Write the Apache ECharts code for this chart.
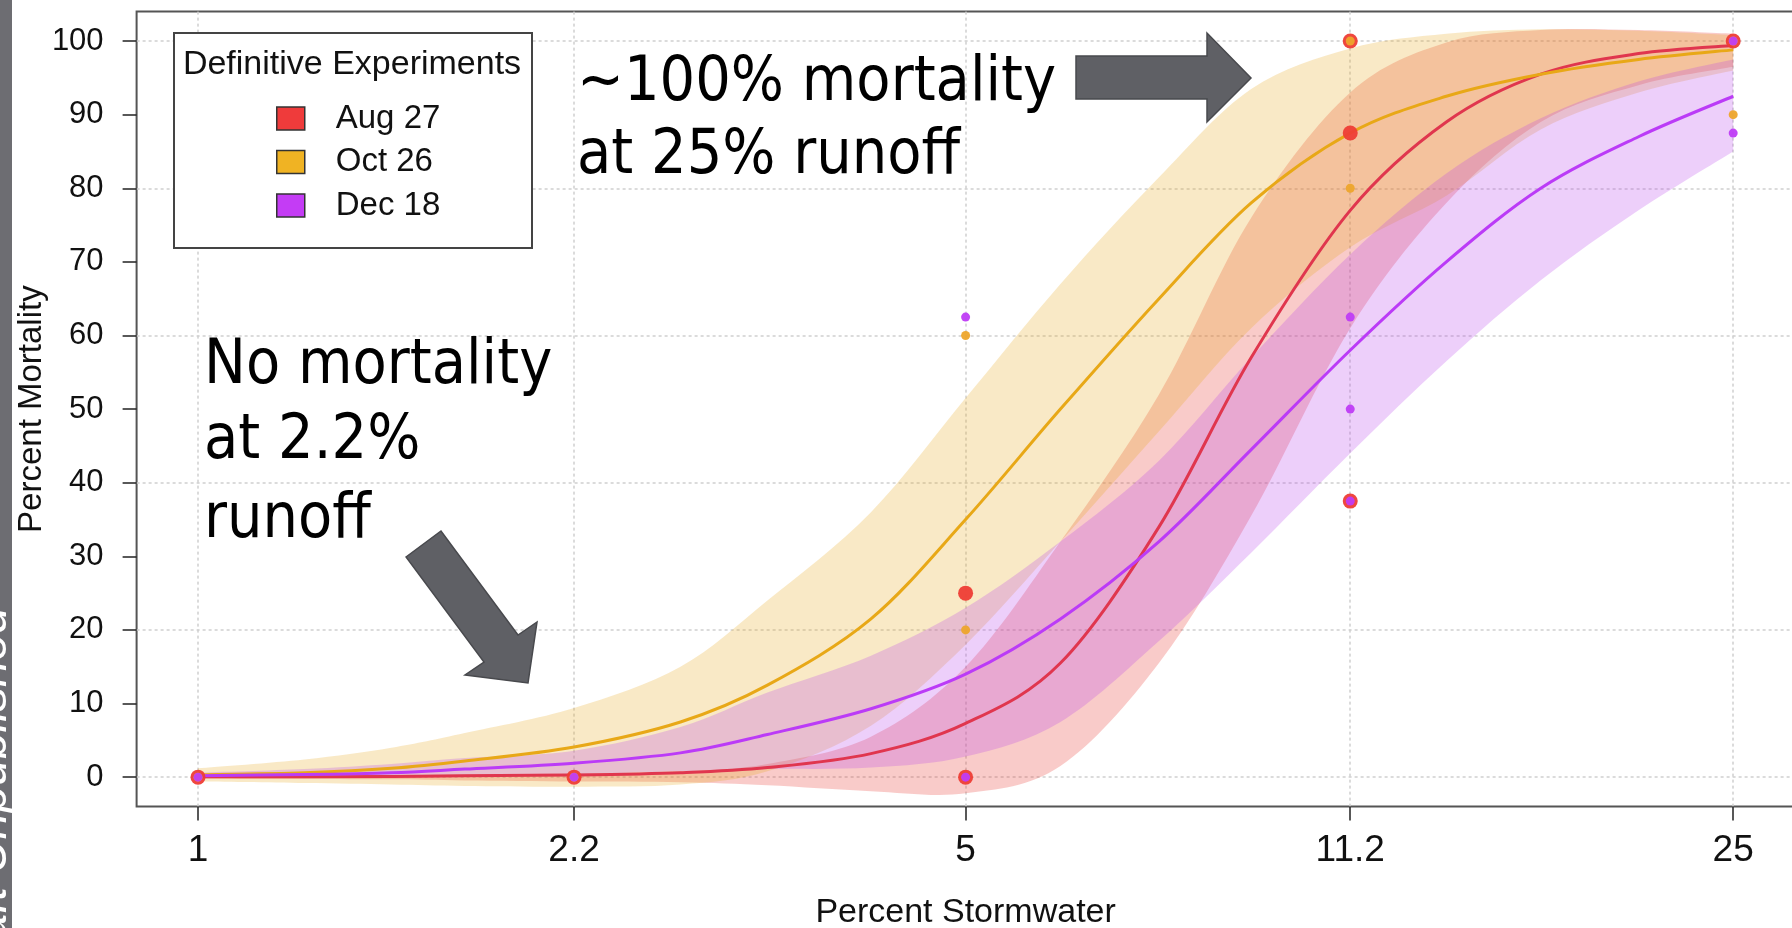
<!DOCTYPE html>
<html>
<head>
<meta charset="utf-8">
<script src="https://cdn.jsdelivr.net/npm/echarts@6/dist/echarts.min.js"></script>
<style>
html,body{margin:0;padding:0;background:#ffffff;}
#chart{width:1792px;height:928px;}
</style>
</head>
<body>
<div id="chart"></div>
<script>
// ---------- data ----------
const seriesNames = ['Aug 27', 'Oct 26', 'Dec 18'];
const xTickValues = [1, 2.2, 5, 11.2, 25];
const xTickLabels = ['1', '2.2', '5', '11.2', '25'];
const yTickValues = [0, 10, 20, 30, 40, 50, 60, 70, 80, 90, 100];
const yGridValues = [0, 20, 40, 60, 80, 100];

// percent stormwater at which the fitted curves / bands were read
const curveConc = [1, 1.25, 1.5, 1.75, 2.2, 2.75, 3.3, 4.1, 5, 6.1, 7.5, 9.1, 11.2, 13.7, 16.7, 20.5, 25];

const aug27Fit   = [0.05, 0.07, 0.1, 0.2, 0.3, 0.6, 1.3, 3.2, 7.3, 15.5, 34, 57, 77, 89, 95.5, 98.3, 99.4];
const aug27Upper = [0.3, 0.3, 0.3, 0.4, 0.5, 0.8, 1.8, 5.5, 15, 32, 52, 76, 93, 99.8, 101.5, 101.5, 101];
const aug27Lower = [-0.2, -0.25, -0.3, -0.45, -0.6, -0.7, -1.1, -1.9, -2.2, 1.5, 15.5, 35.5, 61, 78, 89, 94, 96.5];

const oct26Fit   = [0.3, 0.6, 1.2, 2.2, 4.1, 7.5, 12.5, 21.5, 35, 50, 65, 78, 87.5, 92.5, 95.5, 97.5, 98.8];
const oct26Upper = [1.2, 2.4, 4, 6, 9.4, 15, 24, 36, 51.5, 67, 81.5, 93.5, 99, 101, 101.6, 101.4, 100.8];
const oct26Lower = [-0.6, -0.8, -1.0, -1.2, -1.3, -1.0, 0.8, 7, 18, 32, 47, 61, 72, 79, 88, 93, 96];

const dec18Fit   = [0.2, 0.35, 0.6, 1.1, 1.9, 3.3, 5.8, 9.3, 14, 21.5, 32, 44.5, 58, 70, 80, 87, 92.5];
const dec18Upper = [0.6, 1.1, 1.8, 2.6, 3.6, 6.8, 11.5, 16.5, 23, 32, 43, 57, 71, 82, 89.5, 94.5, 97.5];
const dec18Lower = [-0.1, -0.05, 0.0, 0.2, 0.4, 0.8, 1.1, 1.3, 2.8, 7.5, 18.5, 30.5, 44, 56.5, 67.5, 77, 85];

// observed mortality
const aug27ObsX = [1, 2.2, 5, 5, 11.2, 11.2, 11.2, 25];
const aug27ObsY = [0, 0, 0, 25, 37.5, 87.5, 100, 100];
const oct26ObsX = [1, 2.2, 5, 5, 11.2, 11.2, 25, 25];
const oct26ObsY = [0, 0, 20, 60, 80, 100, 90, 100];
const dec18ObsX = [1, 2.2, 5, 5, 11.2, 11.2, 11.2, 25, 25];
const dec18ObsY = [0, 0, 0, 62.5, 37.5, 50, 62.5, 87.5, 100];

// ---------- styles ----------
const lineColors = ['#e0364e', '#e8a817', '#bb3bf7'];
const bandColors = ['rgba(232,48,40,0.25)', 'rgba(232,168,28,0.25)', 'rgba(182,62,236,0.25)'];
const pointColors = ['#ee3d35', '#eda52c', '#bf3cf6'];
const legendColors = ['#ef3b3b', '#f0b323', '#c43cf5'];
const pointSizes = [15, 9, 9];

// ---------- helpers ----------
const lx = c => Math.log(c);
const pairs = (xs, ys) => xs.map((c, i) => [lx(c), ys[i]]);
const xMin = -0.04 * Math.log(25);
const xMax = 1.04 * Math.log(25);
const xTickPos = xTickValues.map(lx);

const fits = [aug27Fit, oct26Fit, dec18Fit];
const uppers = [aug27Upper, oct26Upper, dec18Upper];
const lowers = [aug27Lower, oct26Lower, dec18Lower];
const obsX = [aug27ObsX, oct26ObsX, dec18ObsX];
const obsY = [aug27ObsY, oct26ObsY, dec18ObsY];

// Catmull-Rom spline through pixel points -> SVG path segments
function spline(pts, start) {
  let d = start ? 'M' + pts[0][0] + ',' + pts[0][1] : 'L' + pts[0][0] + ',' + pts[0][1];
  for (let i = 0; i < pts.length - 1; i++) {
    const p0 = pts[Math.max(i - 1, 0)], p1 = pts[i], p2 = pts[i + 1], p3 = pts[Math.min(i + 2, pts.length - 1)];
    const c1 = [p1[0] + (p2[0] - p0[0]) / 6, p1[1] + (p2[1] - p0[1]) / 6];
    const c2 = [p2[0] - (p3[0] - p1[0]) / 6, p2[1] - (p3[1] - p1[1]) / 6];
    d += 'C' + c1[0] + ',' + c1[1] + ',' + c2[0] + ',' + c2[1] + ',' + p2[0] + ',' + p2[1];
  }
  return d;
}

const series = [];
// confidence bands
seriesNames.forEach((nm, g) => {
  series.push({
    type: 'custom', id: 'band' + g, silent: true, z: 2,
    data: [[lx(curveConc[0]), lowers[g][0]]],
    renderItem: (params, api) => {
      const up = curveConc.map((c, i) => api.coord([lx(c), uppers[g][i]]));
      const lo = curveConc.map((c, i) => api.coord([lx(c), lowers[g][i]])).reverse();
      const d = spline(up, true) + spline(lo, false) + 'Z';
      return { type: 'path', shape: { pathData: d }, style: { fill: bandColors[g], stroke: null } };
    }
  });
});
// fitted curves
seriesNames.forEach((nm, g) => {
  series.push({
    type: 'custom', id: 'fit' + g, silent: true, z: 3,
    data: [[lx(curveConc[0]), fits[g][0]]],
    renderItem: (params, api) => {
      const pts = curveConc.map((c, i) => api.coord([lx(c), fits[g][i]]));
      return { type: 'path', shape: { pathData: spline(pts, true) },
               style: { fill: null, stroke: lineColors[g], lineWidth: 3 } };
    }
  });
});
// observations
seriesNames.forEach((nm, g) => {
  series.push({
    type: 'scatter', name: nm, data: pairs(obsX[g], obsY[g]),
    symbol: 'circle', symbolSize: pointSizes[g],
    itemStyle: { color: pointColors[g], opacity: 0.95 }, z: 4
  });
});

const chart = echarts.init(document.getElementById('chart'), null, { renderer: 'canvas' });
const FONT = '"Liberation Sans", Arial, sans-serif';
const ANN = '"DejaVu Sans", Verdana, sans-serif';

const arrowStyle = { fill: '#5f6065', stroke: '#48494d', lineWidth: 1.5 };

chart.setOption({
  animation: false,
  backgroundColor: '#ffffff',
  grid: {
    left: 136.6, top: 11.6, width: 1658, height: 795,
    outerBoundsMode: 'none', containLabel: false,
    show: true, borderColor: '#555555', borderWidth: 2, backgroundColor: '#ffffff'
  },
  xAxis: {
    type: 'value', min: xMin, max: xMax,
    name: 'Percent Stormwater', nameLocation: 'middle', nameGap: 89.5, nameMoveOverlap: false,
    nameTextStyle: { fontSize: 34, fontFamily: FONT, color: '#111' },
    axisLine: { show: false, onZero: false },
    axisTick: { customValues: xTickPos, length: 14, lineStyle: { color: '#222', width: 1.5 } },
    axisLabel: {
      customValues: xTickPos, fontSize: 37, fontFamily: FONT, color: '#111', margin: 26,
      formatter: v => { const i = xTickPos.findIndex(t => Math.abs(t - v) < 1e-6); return i >= 0 ? xTickLabels[i] : ''; }
    },
    splitLine: { show: true, lineStyle: { color: '#cfcfcf', width: 1.5, type: [3, 3] } }
  },
  yAxis: [
    {
      type: 'value', min: -4, max: 104,
      name: 'Percent Mortality', nameLocation: 'middle', nameGap: 88, nameMoveOverlap: false,
      nameTextStyle: { fontSize: 33, fontFamily: FONT, color: '#111' },
      axisLine: { show: false, onZero: false },
      axisTick: { customValues: yTickValues, length: 14, lineStyle: { color: '#222', width: 1.5 } },
      axisLabel: { customValues: yTickValues, fontSize: 31, fontFamily: FONT, color: '#111', margin: 33 },
      splitLine: { show: false }
    },
    {
      type: 'value', min: -4, max: 104, position: 'right',
      axisLine: { show: false, onZero: false },
      axisTick: { show: false, customValues: yGridValues },
      axisLabel: { show: false, customValues: yGridValues },
      splitLine: { show: true, lineStyle: { color: '#cfcfcf', width: 1.5, type: [3, 3] } }
    }
  ],
  legend: {
    orient: 'vertical', left: 276, top: 102, z: 6,
    itemWidth: 28, itemHeight: 23, itemGap: 10.5, icon: 'rect',
    selectedMode: false, padding: 0,
    textStyle: { fontSize: 33, fontFamily: FONT, color: '#111', padding: [0, 0, 0, 26] },
    data: seriesNames.map((nm, g) => ({
      name: nm, itemStyle: { color: legendColors[g], borderColor: '#333', borderWidth: 1.5, opacity: 1 }
    }))
  },
  graphic: [
    { type: 'rect', z: 5, shape: { x: 174, y: 33, width: 358, height: 215 },
      style: { fill: '#ffffff', stroke: '#444444', lineWidth: 2 } },
    { type: 'text', z: 7, x: 352, y: 65,
      style: { text: 'Definitive Experiments', fontSize: 34, fontFamily: FONT, fill: '#111', align: 'center', verticalAlign: 'middle' } },

    { type: 'text', z: 20, x: 577, y: 84, scaleY: 1.12,
      style: { text: '~100% mortality', fontSize: 56, fontFamily: ANN, fill: '#000', verticalAlign: 'middle' } },
    { type: 'text', z: 20, x: 577, y: 157, scaleY: 1.12,
      style: { text: 'at 25% runoff', fontSize: 56, fontFamily: ANN, fill: '#000', verticalAlign: 'middle' } },
    { type: 'text', z: 20, x: 204, y: 367, scaleY: 1.12,
      style: { text: 'No mortality', fontSize: 56, fontFamily: ANN, fill: '#000', verticalAlign: 'middle' } },
    { type: 'text', z: 20, x: 204, y: 442, scaleY: 1.12,
      style: { text: 'at 2.2%', fontSize: 56, fontFamily: ANN, fill: '#000', verticalAlign: 'middle' } },
    { type: 'text', z: 20, x: 204, y: 521, scaleY: 1.12,
      style: { text: 'runoff', fontSize: 56, fontFamily: ANN, fill: '#000', verticalAlign: 'middle' } },

    { type: 'polygon', z: 20,
      shape: { points: [[1076, 56], [1207, 56], [1207, 33], [1251, 78], [1207, 122], [1207, 99], [1076, 99]] },
      style: arrowStyle },
    { type: 'polygon', z: 20,
      shape: { points: [[406, 557], [441, 531], [518, 635], [537, 622], [528, 683], [465, 675], [484, 662]] },
      style: arrowStyle },

    { type: 'rect', z: 30, shape: { x: 0, y: 0, width: 12, height: 928 }, style: { fill: '#6d6d72' } },
    { type: 'text', z: 31, x: 17, y: 607, rotation: Math.PI / 2,
      style: { text: 'Draft Unpublished', fontSize: 48, fontStyle: 'italic', fontFamily: FONT, fill: '#ffffff', align: 'right', verticalAlign: 'bottom' } }
  ],
  series: series
});
</script>
</body>
</html>
